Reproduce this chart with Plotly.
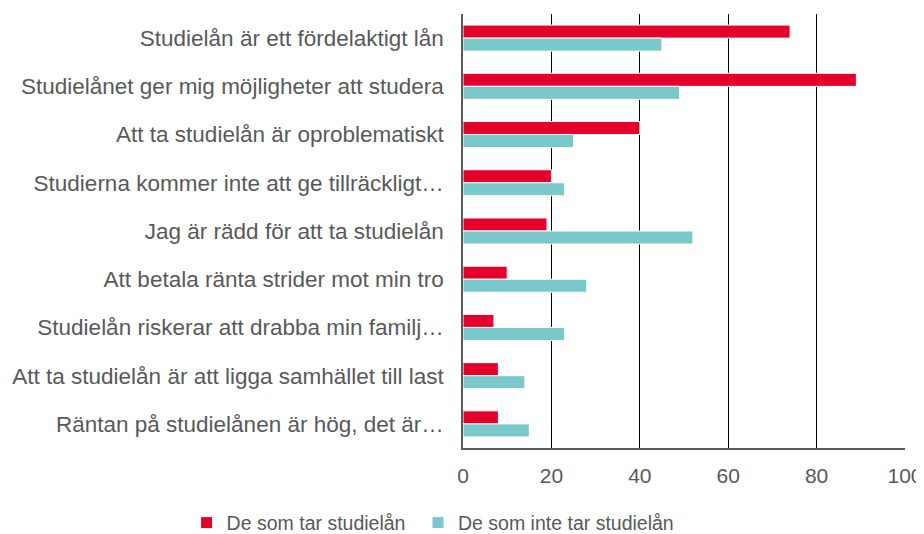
import plotly.graph_objects as go

categories = [
    "Studielån är ett fördelaktigt lån",
    "Studielånet ger mig möjligheter att studera",
    "Att ta studielån är oproblematiskt",
    "Studierna kommer inte att ge tillräckligt…",
    "Jag är rädd för att ta studielån",
    "Att betala ränta strider mot min tro",
    "Studielån riskerar att drabba min familj…",
    "Att ta studielån är att ligga samhället till last",
    "Räntan på studielånen är hög, det är…",
]
tar_lan = [74, 89, 40, 20, 19, 10, 7, 8, 8]
tar_inte_lan = [45, 49, 25, 23, 52, 28, 23, 14, 15]
x_ticks = [0, 20, 40, 60, 80, 100]

RED = "#E4002B"
TEAL = "#7AC8C9"
GREY = "#595959"

fig = go.Figure()
fig.add_trace(go.Bar(
    y=categories, x=tar_lan, orientation="h", name="De som tar studielån",
    marker=dict(color=RED, line=dict(color="white", width=1)),
    legend="legend", showlegend=True,
))
fig.add_trace(go.Bar(
    y=categories, x=tar_inte_lan, orientation="h", name="De som inte tar studielån",
    marker=dict(color=TEAL, line=dict(color="white", width=1)),
    legend="legend2", showlegend=True,
))

# one legend per entry so that nothing wraps or pushes the margins
leg = dict(orientation="h", xref="container", yref="container", xanchor="left",
           y=0.021, yanchor="middle", font=dict(size=19.5, color=GREY), itemwidth=30)

# page has an 8px body margin, so the figure is a bit smaller than the window
fig.update_layout(
    width=916, height=526,
    margin=dict(l=455, r=19, t=6, b=86),
    paper_bgcolor="white", plot_bgcolor="white",
    barmode="group", bargap=0.46, bargroupgap=0,
    font=dict(family="Liberation Sans, Arial, sans-serif", size=20, color=GREY),
    showlegend=True,
    legend=dict(leg, x=0.195),
    legend2=dict(leg, x=0.4476),
)
fig.update_xaxes(
    range=[0, 100], tickvals=x_ticks, showgrid=True, gridcolor="black", gridwidth=1,
    zeroline=False, showline=True, linecolor=GREY, linewidth=1.5, automargin=False,
    ticks="", ticklabelstandoff=8, tickfont=dict(size=21, color=GREY),
)
fig.update_yaxes(
    autorange="reversed", showline=True, linecolor=GREY, linewidth=1.5, automargin=False,
    showgrid=False, ticks="", ticklabelstandoff=13, tickfont=dict(size=22.5, color=GREY),
)

fig.write_html("out.html")
